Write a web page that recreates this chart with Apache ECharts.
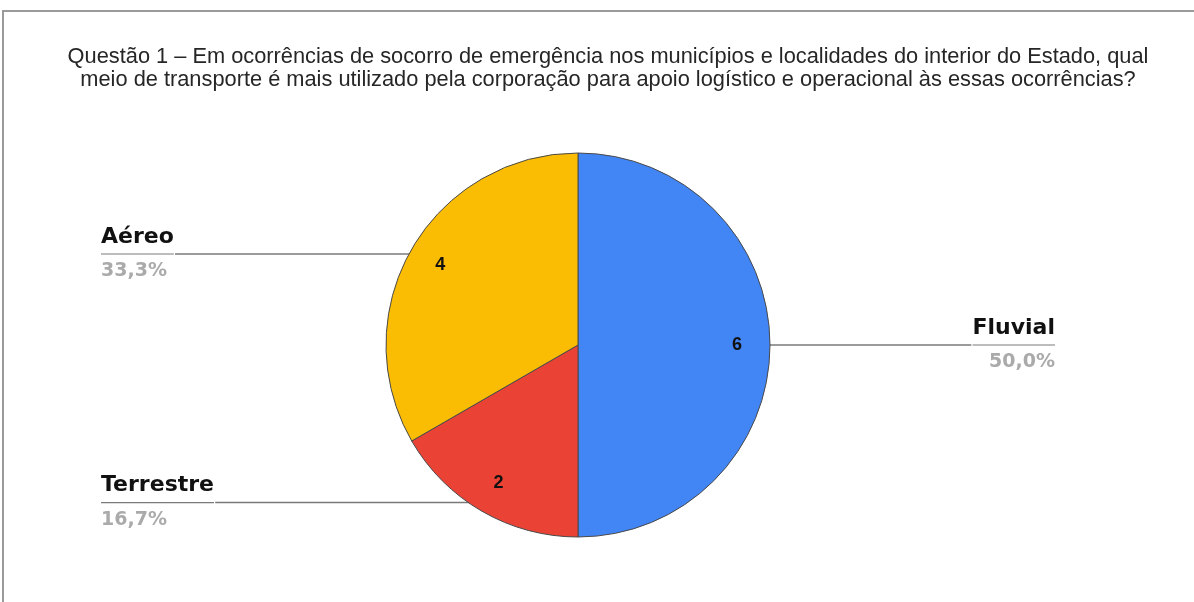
<!DOCTYPE html>
<html>
<head>
<meta charset="utf-8">
<script src="https://cdn.jsdelivr.net/npm/echarts@6/dist/echarts.min.js"></script>
<style>
  html, body { margin: 0; padding: 0; background: #fff; }
  #chart { width: 1194px; height: 602px; }
</style>
</head>
<body>
<div id="chart"></div>
<script>
// Survey answers: transport used in emergency responses in the interior
const categories = ['Fluvial', 'Terrestre', 'Aéreo'];
const counts = [6, 2, 4];
const sliceColors = ['#4285F4', '#EA4335', '#FBBC04'];
const titleLines = [
  'Questão 1 – Em ocorrências de socorro de emergência nos municípios e localidades do interior do Estado, qual',
  'meio de transporte é mais utilizado pela corporação para apoio logístico e operacional às essas ocorrências?'
];

const total = counts.reduce((a, b) => a + b, 0);
const pieData = categories.map((name, i) => ({ name, value: counts[i] }));
const pctText = v => (v / total * 100).toFixed(1).replace('.', ',') + '%';

const CENTER = [578, 345];
const R = 192;

const chart = echarts.init(document.getElementById('chart'), null, { renderer: 'canvas' });

chart.setOption({
  backgroundColor: '#fff',
  animation: false,
  title: {
    text: titleLines.join('\n'),
    left: 608,
    top: 45,
    padding: 0,
    textAlign: 'center',
    textStyle: {
      fontFamily: 'Liberation Sans, Arial, sans-serif',
      fontWeight: 'normal',
      fontSize: 21.8,
      lineHeight: 23,
      color: '#262626'
    }
  },
  graphic: [{
    type: 'rect',
    shape: { x: 3, y: 11, width: 1400, height: 800 },
    style: { fill: 'none', stroke: '#9a9a9a', lineWidth: 2 },
    silent: true
  }],
  series: [
    {
      // visible slices
      type: 'pie',
      center: CENTER,
      radius: R,
      startAngle: 90,
      clockwise: true,
      silent: true,
      label: { show: false },
      labelLine: { show: false },
      itemStyle: { borderColor: '#4a4a4a', borderWidth: 1 },
      color: sliceColors,
      data: pieData
    },
    {
      // value numbers near the rim of each slice
      type: 'pie',
      center: CENTER,
      radius: [120, R],
      startAngle: 90,
      silent: true,
      itemStyle: { color: 'rgba(0,0,0,0)' },
      label: {
        show: true,
        position: 'inside',
        formatter: '{c}',
        fontFamily: 'Liberation Sans, Arial, sans-serif',
        fontWeight: 'bold',
        fontSize: 18,
        color: '#111'
      },
      labelLine: { show: false },
      data: pieData
    },
    {
      // outside callouts: name over a rule, percentage below
      type: 'pie',
      left: 0,
      right: 38,
      top: 0,
      bottom: 0,
      center: CENTER,
      radius: R - 10,
      startAngle: 90,
      silent: true,
      itemStyle: { color: 'rgba(0,0,0,0)' },
      label: {
        show: true,
        position: 'outer',
        alignTo: 'edge',
        edgeDistance: 101,
        distanceToLabelLine: 0,
        formatter: p => '{name|' + p.name + '}\n{hr|}\n{pct|' + pctText(p.value) + '}',
        rich: {
          name: {
            fontFamily: 'DejaVu Sans, sans-serif',
            fontWeight: 'bold',
            fontSize: 22,
            lineHeight: 34,
            color: '#111'
          },
          hr: {
            width: '100%',
            height: 0,
            borderColor: '#7a7a7a',
            borderWidth: 1.2
          },
          pct: {
            fontFamily: 'DejaVu Sans, sans-serif',
            fontWeight: 'bold',
            fontSize: 19,
            lineHeight: 34,
            color: '#aaaaaa'
          }
        }
      },
      labelLine: {
        show: true,
        length: 0,
        length2: 10,
        lineStyle: { color: '#7a7a7a', width: 1.5 }
      },
      data: pieData
    }
  ]
});
</script>
</body>
</html>
